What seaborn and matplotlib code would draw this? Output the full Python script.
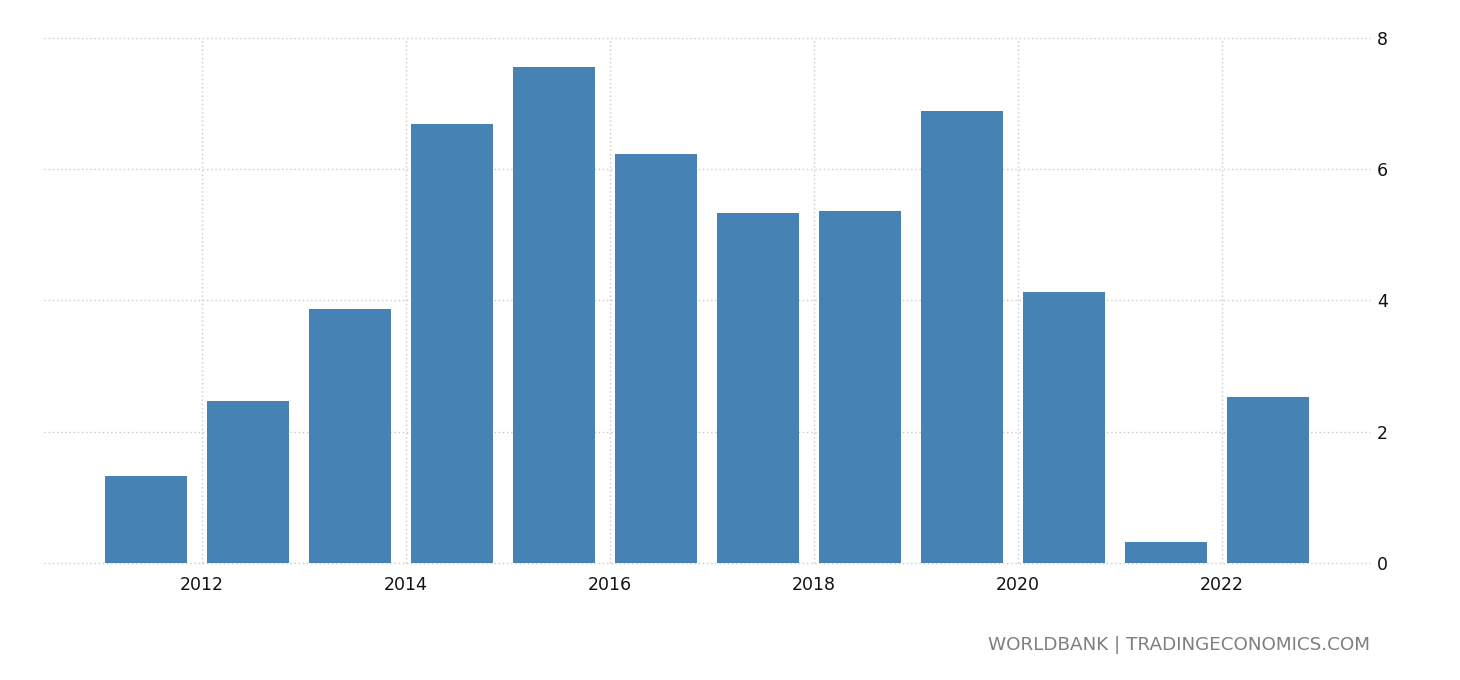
import matplotlib
matplotlib.use("Agg")
import matplotlib.pyplot as plt
import seaborn as sns
import pandas as pd

years = [2011, 2012, 2013, 2014, 2015, 2016, 2017, 2018, 2019, 2020, 2021, 2022]
values = [1.33, 2.47, 3.87, 6.69, 7.56, 6.23, 5.34, 5.37, 6.89, 4.13, 0.32, 2.53]
tick_years = ["2012", "2014", "2016", "2018", "2020", "2022"]
y_ticks = [0, 2, 4, 6, 8]

sns.set_theme(style="white")
plt.rcParams['font.family'] = ['DejaVu Sans']

df = pd.DataFrame({"year": [str(y) for y in years], "value": values})

fig = plt.figure(figsize=(14.6, 6.8), dpi=100)
ax = fig.add_axes([44/1460, 1 - 563/680, (1370 - 44)/1460, (563 - 38)/680])

sns.barplot(data=df, x="year", y="value", color="#4682B4", width=0.8,
            saturation=1, linewidth=0, edgecolor="none", ax=ax, zorder=3)

ax.set_xlim(-1.0, 12.0)
ax.set_ylim(0, 8)

# ticks: year boundaries lie between bars
tick_pos = [years.index(int(t)) - 0.45 for t in tick_years]
ax.set_xticks(tick_pos)
ax.set_xticklabels(tick_years, fontsize=12.5, color="#111111")
ax.set_yticks(y_ticks)
ax.set_yticklabels([str(v) for v in y_ticks], fontsize=12.5, color="#111111")
ax.yaxis.tick_right()
ax.tick_params(axis="y", length=0, pad=5)
ax.tick_params(axis="x", length=6, width=1, color="#cccccc", pad=3)

ax.grid(True, axis="both", linestyle=(0, (1, 2)), color="#c8c8c8", linewidth=1, zorder=0)
for gl in ax.get_xgridlines() + ax.get_ygridlines():
    gl.set_clip_on(False)
ax.set_axisbelow(True)
for s in ax.spines.values():
    s.set_visible(False)
ax.set_xlabel("")
ax.set_ylabel("")

fig.text(1370/1460, 1 - 645/680, "WORLDBANK | TRADINGECONOMICS.COM",
         ha="right", va="center", fontsize=13.2, color="#7f7f7f")

fig.savefig("out.png", dpi=100)
